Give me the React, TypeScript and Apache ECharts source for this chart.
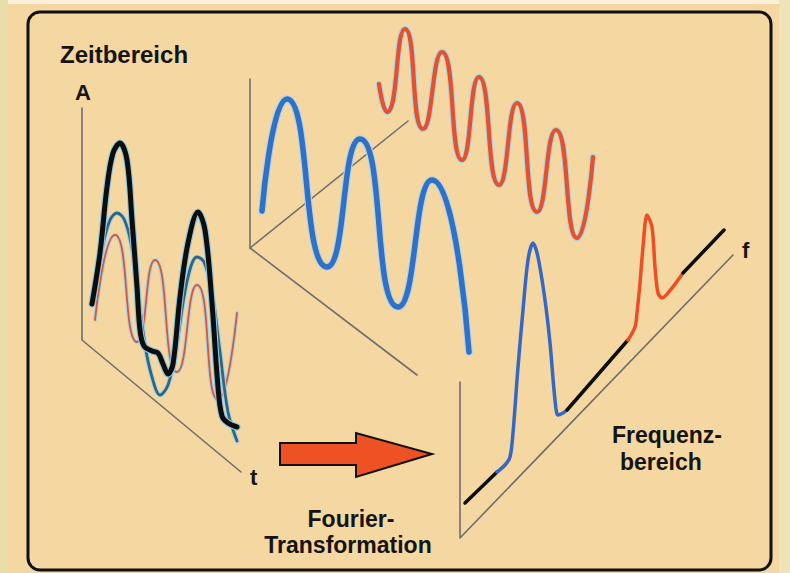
import React, { useEffect, useRef } from "react";
import * as echarts from "echarts";

// Gray projection axes of the three sketches (pixel-scale value axes)
const achseZeit = [[82, 108], [82, 340], [241, 472]];
const achseMitteOben = [[250, 79], [250, 248], [408, 121]];
const achseMitteUnten = [[250, 248], [417, 375]];
const achseFrequenz = [[460, 382], [460, 538], [733, 255]];

// Time domain (left): sum signal and its two components
const zeitSumme = [
  [92, 304], [100, 253], [107, 187], [113, 153], [120, 143], [127, 160], [132, 220],
  [137, 287], [140, 330], [144, 346], [152, 351], [158, 353], [163, 364], [168, 374],
  [173, 364], [180, 297], [188, 243], [198, 212], [205, 230], [212, 303], [218, 387],
  [222, 416], [228, 423], [237, 427],
];
const zeitKomponenteTief = [
  [94, 298], [103, 245], [110, 220], [117, 213], [124, 219], [131, 243], [138, 292],
  [145, 345], [152, 377], [160, 395], [168, 385], [176, 350], [184, 297], [191, 266],
  [197, 257], [204, 262], [212, 292], [220, 352], [228, 412], [237, 441],
];
const zeitKomponenteHoch = [
  [95, 320], [115, 235], [137, 342], [155, 260], [177, 372], [197, 285], [218, 400], [237, 313],
];

// Middle: the two separated sine components
const welleTief = [
  [262, 211], [287, 99], [327, 267], [360, 139], [398, 307], [432, 180], [469, 352],
];
const welleHoch = [
  [379, 84], [387, 112], [405, 29], [423, 129], [442, 52], [462, 160], [479, 77],
  [499, 185], [517, 103], [537, 212], [556, 130], [577, 238], [593, 157],
];

// Frequency domain (right): baseline pieces and the two spectral peaks
const spektrumBasis1 = [[465, 503], [497, 472]];
const spektrumPeakTief = [
  [497, 472], [505, 465], [510, 457], [513, 433], [518, 367], [523, 310], [528, 260],
  [533, 243], [538, 257], [545, 300], [550, 343], [555, 400], [558, 415], [563, 413], [567, 410],
];
const spektrumBasis2 = [[567, 410], [628, 340]];
const spektrumPeakHoch = [
  [628, 340], [635, 327], [637, 313], [640, 283], [643, 247], [647, 215], [652, 227],
  [655, 267], [658, 293], [662, 298], [672, 288], [683, 273],
];
const spektrumBasis3 = [[683, 273], [724, 230]];

// Fourier arrow outline
const pfeil = [[280, 443], [356, 443], [356, 433], [432, 454], [356, 477], [356, 465], [280, 465]];

const W = 790;
const H = 573;
const FONT = '"Liberation Sans", Arial, sans-serif';

function linie(data: number[][], color: string, width: number, smooth: number | boolean, z: number, halo?: string) {
  const out: any[] = [];
  if (halo) {
    out.push({
      type: "line", data, showSymbol: false, symbol: "none", smooth, silent: true, clip: false, z,
      lineStyle: { color: halo, width: width + 2.2, cap: "round", join: "round" },
    });
  }
  out.push({
    type: "line", data, showSymbol: false, symbol: "none", smooth, silent: true, clip: false, z: z + 1,
    lineStyle: { color, width, cap: "round", join: "round" },
  });
  return out;
}

function txt(text: string, x: number, y: number, size: number, align: string = "left") {
  return {
    type: "text", x, y, z: 100, silent: true,
    style: {
      text, fill: "#141414", fontSize: size, fontWeight: "bold", fontFamily: FONT,
      align, verticalAlign: "middle",
    },
  };
}

export default function App() {
  const ref = useRef<HTMLDivElement>(null);
  useEffect(() => {
    if (!ref.current) return;
    document.body.style.margin = "0";
    const chart = echarts.init(ref.current, undefined, { renderer: "svg" });
    const grau = "#6e6e6e";
    const halo = "#a6d4e8";
    const series: any[] = [
      ...linie(achseZeit, grau, 1.6, false, 2),
      ...linie(achseMitteOben, grau, 1.6, false, 2),
      ...linie(achseMitteUnten, grau, 1.6, false, 2),
      ...linie(achseFrequenz, grau, 1.6, false, 2),
      ...linie(zeitKomponenteHoch, "#e4532e", 1.8, 0.6, 4, halo),
      ...linie(zeitKomponenteTief, "#35647a", 2.8, 0.35, 6, halo),
      ...linie(zeitSumme, "#0d0d0d", 5, 0.35, 8, "#8cc8e4"),
      ...linie(welleTief, "#3170c2", 5.5, 0.6, 4, "#b0d5ee"),
      ...linie(welleHoch, "#e9502a", 4.2, 0.6, 4, halo),
      ...linie(spektrumBasis1, "#0d0d0d", 3.5, false, 4),
      ...linie(spektrumPeakTief, "#3468c4", 3.5, 0.3, 4),
      ...linie(spektrumBasis2, "#0d0d0d", 3.5, false, 4),
      ...linie(spektrumPeakHoch, "#ec4f25", 3.5, 0.3, 4),
      ...linie(spektrumBasis3, "#0d0d0d", 3.5, false, 4),
    ];
    chart.setOption({
      animation: false,
      backgroundColor: "#f5d7a1",
      grid: { left: 0, right: 0, top: 0, bottom: 0 },
      xAxis: { type: "value", min: 0, max: W, show: false },
      yAxis: { type: "value", min: 0, max: H, inverse: true, show: false },
      series,
      graphic: [
        { type: "rect", z: 0, silent: true, shape: { x: 0, y: 0, width: 8, height: H }, style: { fill: "#e8ddab" } },
        { type: "rect", z: 0, silent: true, shape: { x: 8, y: 0, width: W - 8, height: 4 }, style: { fill: "#fbf1da" } },
        { type: "rect", z: 0, silent: true, shape: { x: 779, y: 0, width: 11, height: H }, style: { fill: "#f1e3b8" } },
        {
          type: "rect", z: 1, silent: true,
          shape: { x: 28, y: 12, width: 743, height: 558, r: 12 },
          style: { fill: "none", stroke: "#111", lineWidth: 3 },
        },
        {
          type: "polygon", z: 10, silent: true,
          shape: { points: pfeil },
          style: { fill: "#ee5123", stroke: "#111", lineWidth: 2, lineJoin: "miter" },
        },
        txt("Zeitbereich", 60, 54, 24),
        txt("A", 75, 92, 22),
        txt("t", 250, 477, 22),
        txt("f", 742, 250, 22),
        txt("Fourier-", 351, 519, 23, "center"),
        txt("Transformation", 348, 545, 23, "center"),
        txt("Frequenz-", 612, 435, 23),
        txt("bereich", 620, 462, 23),
      ],
    });
    return () => chart.dispose();
  }, []);
  return <div ref={ref} style={{ position: "fixed", left: 0, top: 0, width: W, height: H }} />;
}
